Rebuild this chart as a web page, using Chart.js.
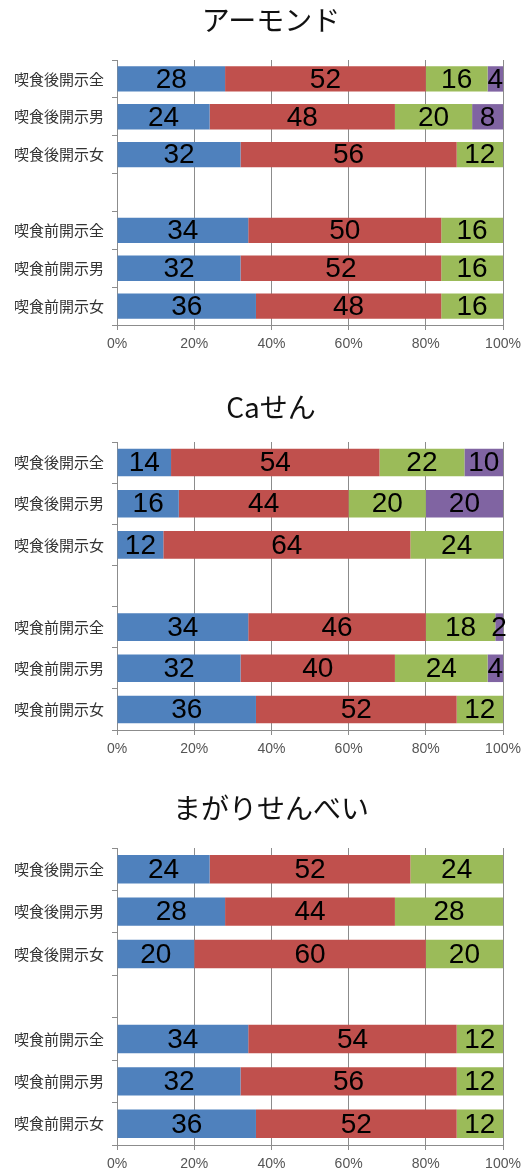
<!DOCTYPE html>
<html>
<head>
<meta charset="utf-8">
<script src="https://cdn.jsdelivr.net/npm/chart.js@4.4.0/dist/chart.umd.min.js"></script>
<style>
  body { margin: 0; background: #fff; }
  canvas { position: absolute; left: 0; }
</style>
</head>
<body>
<canvas id="chartAlmond" width="522" height="355" style="top:0px"></canvas>
<canvas id="chartCa" width="522" height="380" style="top:380px"></canvas>
<canvas id="chartMagari" width="522" height="405" style="top:770px"></canvas>
<script>
// categories (empty one is the gap row)
const categories = ['喫食後開示全', '喫食後開示男', '喫食後開示女', '', '喫食前開示全', '喫食前開示男', '喫食前開示女'];
const xTicks = [0, 20, 40, 60, 80, 100];

// アーモンド
const almondBlue   = [28, 24, 32, null, 34, 32, 36];
const almondRed    = [52, 48, 56, null, 50, 52, 48];
const almondGreen  = [16, 20, 12, null, 16, 16, 16];
const almondPurple = [4, 8, 0, null, 0, 0, 0];

// Caせん
const caBlue   = [14, 16, 12, null, 34, 32, 36];
const caRed    = [54, 44, 64, null, 46, 40, 52];
const caGreen  = [22, 20, 24, null, 18, 24, 12];
const caPurple = [10, 20, 0, null, 2, 4, 0];

// まがりせんべい
const magariBlue   = [24, 28, 20, null, 34, 32, 36];
const magariRed    = [52, 44, 60, null, 54, 56, 52];
const magariGreen  = [24, 28, 20, null, 12, 12, 12];
const magariPurple = [0, 0, 0, null, 0, 0, 0];

const colors = ['#4F81BD', '#C0504D', '#9BBB59', '#8064A2'];

// draws the numbers in the middle of each segment
const barLabels = {
  id: 'barLabels',
  afterDatasetsDraw(chart) {
    const ctx = chart.ctx;
    ctx.save();
    ctx.font = '28px "Liberation Sans", Arial, sans-serif';
    ctx.fillStyle = '#000';
    ctx.textAlign = 'center';
    ctx.textBaseline = 'middle';
    chart.data.datasets.forEach((ds, i) => {
      const meta = chart.getDatasetMeta(i);
      meta.data.forEach((bar, j) => {
        const v = ds.data[j];
        if (!v) return;
        const p = bar.getCenterPoint();
        ctx.fillText(String(v), p.x, p.y + 1);
      });
    });
    ctx.restore();
  }
};

// title sits a bit left of the plot centre, like the original
const chartTitle = {
  id: 'chartTitle',
  afterDraw(chart, args, opts) {
    const ctx = chart.ctx;
    ctx.save();
    ctx.font = '28px "Noto Sans CJK JP", sans-serif';
    ctx.fillStyle = '#111';
    ctx.textAlign = 'center';
    ctx.textBaseline = 'middle';
    ctx.fillText(opts.text, 271, opts.y);
    ctx.restore();
  }
};

function makeChart(id, title, series, titleY, topPad) {
  const ctx = document.getElementById(id).getContext('2d');
  new Chart(ctx, {
    type: 'bar',
    data: {
      labels: categories,
      datasets: series.map((d, i) => ({
        label: 's' + (i + 1),
        data: d,
        backgroundColor: colors[i],
        borderWidth: 0,
        barPercentage: 0.67,
        categoryPercentage: 1
      }))
    },
    options: {
      indexAxis: 'y',
      responsive: false,
      animation: false,
      devicePixelRatio: 1,
      layout: { padding: { left: 0, right: 0, top: topPad, bottom: 0 } },
      plugins: {
        legend: { display: false },
        tooltip: { enabled: false },
        title: { display: false },
        chartTitle: { text: title, y: titleY }
      },
      scales: {
        x: {
          stacked: true,
          min: 0,
          max: 100,
          afterBuildTicks: (axis) => { axis.ticks = xTicks.map(v => ({ value: v })); },
          afterFit: (axis) => { axis.height = 30; axis.paddingRight = 19; },
          ticks: {
            callback: (v) => v + '%',
            color: '#555',
            padding: 6,
            font: { family: '"Liberation Sans", Arial, sans-serif', size: 14 }
          },
          grid: { color: '#8c8c8c', tickLength: 5, lineWidth: 1 },
          border: { color: '#8c8c8c' }
        },
        y: {
          stacked: true,
          afterFit: (axis) => { axis.width = 117; },
          ticks: {
            color: '#333',
            padding: 8,
            font: { family: '"Noto Sans CJK JP", sans-serif', size: 15 }
          },
          grid: { drawOnChartArea: false, color: '#8c8c8c', tickLength: 5, offset: true },
          border: { color: '#8c8c8c' }
        }
      }
    },
    plugins: [barLabels, chartTitle]
  });
}

makeChart('chartAlmond', 'アーモンド', [almondBlue, almondRed, almondGreen, almondPurple], 20, 60);
makeChart('chartCa', 'Caせん', [caBlue, caRed, caGreen, caPurple], 27, 62);
makeChart('chartMagari', 'まがりせんべい', [magariBlue, magariRed, magariGreen, magariPurple], 38, 78);
</script>
</body>
</html>
